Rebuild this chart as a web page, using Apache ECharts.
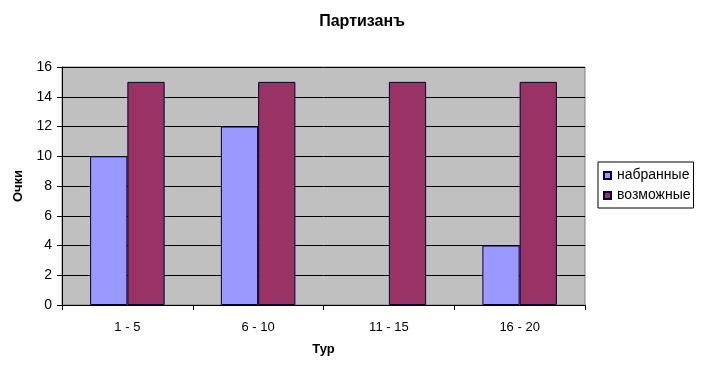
<!DOCTYPE html>
<html><head><meta charset="utf-8">
<script src="https://cdn.jsdelivr.net/npm/echarts@6/dist/echarts.min.js"></script>
<style>html,body{margin:0;padding:0;background:#fff}#c{width:704px;height:368px}</style>
</head><body><div id="c"></div>
<script>
const categories = ['1 - 5', '6 - 10', '11 - 15', '16 - 20'];
const scored = [10, 12, 0, 4];
const possible = [15, 15, 15, 15];
const seriesNames = ['набранные', 'возможные'];
const yTicks = { min: 0, max: 16, interval: 2 };

const toItems = arr => arr.map(v => v === 0 ? { value: v, itemStyle: { borderWidth: 0 } } : v);

const chart = echarts.init(document.getElementById('c'), null, { renderer: 'canvas' });
const font = 'Arial, "Liberation Sans", sans-serif';
chart.setOption({
  animation: false,
  backgroundColor: '#ffffff',
  title: {
    text: 'Партизанъ', left: 357, top: 9, textAlign: 'center',
    textStyle: { fontFamily: font, fontSize: 16, fontWeight: 'bold', color: '#000' }
  },
  legend: {
    orient: 'vertical', left: 598, top: 162,
    data: seriesNames,
    borderColor: '#000', borderWidth: 1,
    padding: [6, 3, 5, 5],
    itemWidth: 7, itemHeight: 7, itemGap: 5,
    icon: 'rect',
    textStyle: { fontFamily: font, fontSize: 14, lineHeight: 15, color: '#000', padding: [0, 0, 0, 1] }
  },
  grid: {
    left: 62, right: 119, top: 67, bottom: 63,
    show: true, backgroundColor: '#C0C0C0', borderColor: '#808080', borderWidth: 1
  },
  xAxis: {
    type: 'category', data: categories,
    name: 'Тур', nameLocation: 'middle', nameGap: 38,
    nameTextStyle: { fontFamily: font, fontSize: 13, fontWeight: 'bold', color: '#000' },
    axisLine: { lineStyle: { color: '#000', width: 1 } },
    axisTick: { show: true, length: 5, lineStyle: { color: '#000' } },
    axisLabel: { fontFamily: font, fontSize: 13, color: '#000', margin: 16 },
    splitLine: { show: false }
  },
  yAxis: {
    type: 'value', min: yTicks.min, max: yTicks.max, interval: yTicks.interval,
    name: 'Очки', nameLocation: 'middle', nameGap: 37, nameRotate: 90,
    nameTextStyle: { fontFamily: font, fontSize: 13, fontWeight: 'bold', color: '#000' },
    axisLine: { show: true, lineStyle: { color: '#000', width: 1 } },
    axisTick: { show: true, length: 5, lineStyle: { color: '#000' } },
    axisLabel: { fontFamily: font, fontSize: 14, color: '#000', margin: 10 },
    splitLine: { show: true, lineStyle: { color: '#000', width: 1 } }
  },
  series: [
    {
      name: seriesNames[0], type: 'bar', data: toItems(scored),
      barGap: '0%', barCategoryGap: '43%',
      itemStyle: { color: '#9999FF', borderColor: '#000033', borderWidth: 1 }
    },
    {
      name: seriesNames[1], type: 'bar', data: toItems(possible),
      barGap: '0%', barCategoryGap: '43%',
      itemStyle: { color: '#993366', borderColor: '#000033', borderWidth: 1 }
    }
  ]
});
</script></body></html>
